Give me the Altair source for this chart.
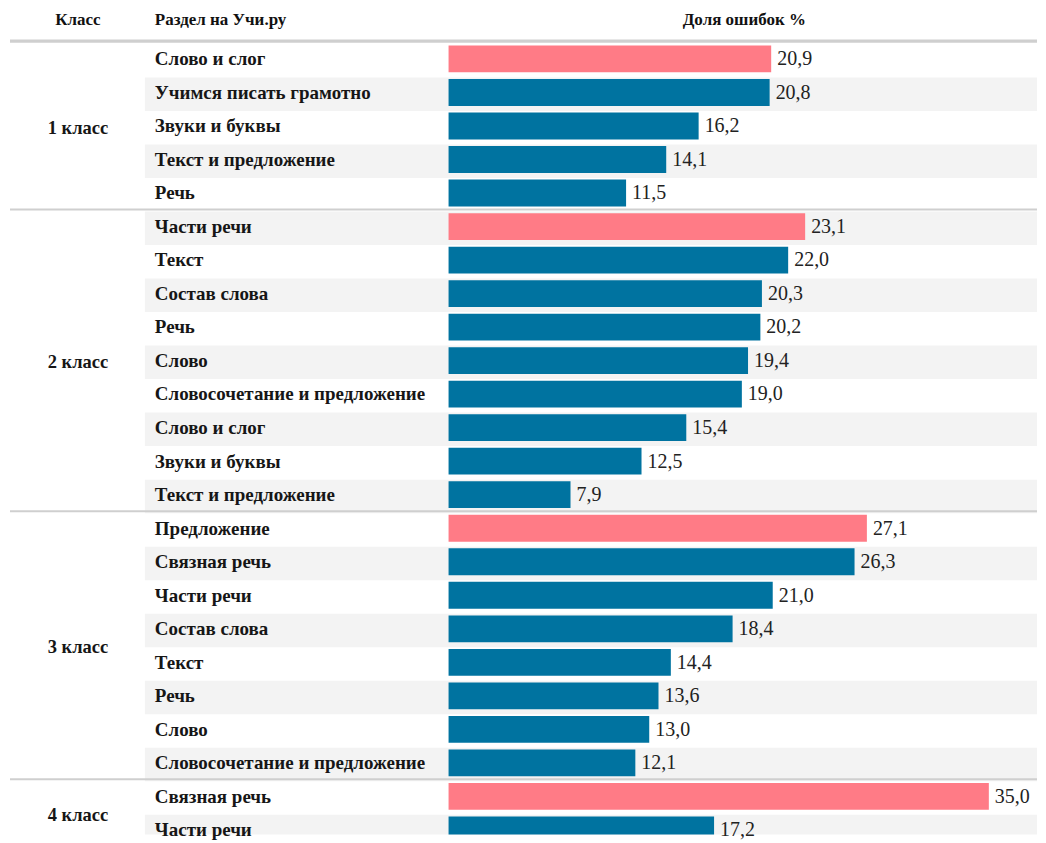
import altair as alt
import pandas as pd

classes = ["1 класс"] * 5 + ["2 класс"] * 9 + ["3 класс"] * 8 + ["4 класс"] * 2
sections = [
    "Слово и слог", "Учимся писать грамотно", "Звуки и буквы", "Текст и предложение", "Речь",
    "Части речи", "Текст", "Состав слова", "Речь", "Слово", "Словосочетание и предложение",
    "Слово и слог", "Звуки и буквы", "Текст и предложение",
    "Предложение", "Связная речь", "Части речи", "Состав слова", "Текст", "Речь", "Слово",
    "Словосочетание и предложение",
    "Связная речь", "Части речи",
]
values = [
    20.9, 20.8, 16.2, 14.1, 11.5,
    23.1, 22.0, 20.3, 20.2, 19.4, 19.0, 15.4, 12.5, 7.9,
    27.1, 26.3, 21.0, 18.4, 14.4, 13.6, 13.0, 12.1,
    35.0, 17.2,
]
header_texts = ["Класс", "Раздел на Учи.ру", "Доля ошибок %"]

PINK = "#FF7B86"
BLUE = "#0073A0"
FONT = "Liberation Serif"

df = pd.DataFrame({"cls": classes, "section": sections, "value": values})
df["row"] = range(len(df))
df["top"] = df["row"] + 0.05
df["bot"] = df["row"] + 0.85
df["mid"] = df["row"] + 0.46
df["rstart"] = df["row"].astype(float)
df["rend"] = df["row"] + 1.0
df["zero"] = 0.0
df["label"] = df["value"].map(lambda v: f"{v:.1f}".replace(".", ","))
df["best"] = df.groupby("cls")["value"].transform("max") == df["value"]
df["shade"] = df["row"] % 2 == 1

grp = df.groupby("cls", sort=False)["row"].agg(["min", "max"]).reset_index()
grp["center"] = (grp["min"] + grp["max"] + 1) / 2.0
grp["sep"] = grp["min"] - 0.06

W, H = 1030, 827
ydom = [-1.058, 23.59]
xdom = [-28.54, 38.12]

yq = lambda f: alt.Y(f, type="quantitative", scale=alt.Scale(domain=ydom, reverse=True, nice=False, zero=False), axis=None)
xq = lambda f: alt.X(f, type="quantitative", scale=alt.Scale(domain=xdom, nice=False, zero=False), axis=None)

base = alt.Chart(df)

bands = base.transform_filter("datum.shade").mark_rect(color="#F3F3F3", clip=True).encode(
    x=alt.value(137), x2=alt.value(W),
    y=yq("rstart"), y2=alt.Y2("rend"),
)

bars = base.mark_rect(clip=True).encode(
    x=xq("zero"), x2=alt.X2("value"),
    y=yq("top"), y2=alt.Y2("bot"),
    color=alt.condition("datum.best", alt.value(PINK), alt.value(BLUE)),
)

vals = base.mark_text(align="left", baseline="middle", dx=6, font=FONT, fontSize=20, color="#222").encode(
    x=xq("value"), y=yq("mid"), text="label",
)

secs = base.mark_text(align="left", baseline="middle", font=FONT, fontSize=19, fontWeight="bold", color="#161616").encode(
    x=alt.value(147), y=yq("mid"), text="section",
)

gbase = alt.Chart(grp)
clslab = gbase.mark_text(align="center", baseline="middle", font=FONT, fontSize=18.5, fontWeight="bold", color="#161616").encode(
    x=alt.value(70), y=yq("center"), text="cls",
)
seps = gbase.mark_rule(color="#CFCFCF", strokeWidth=2).encode(
    x=alt.value(2), x2=alt.value(W), y=yq("sep"),
)

hdr = pd.DataFrame({"t": header_texts, "px": [70, 147, 737], "al": ["center", "left", "center"], "y": [-0.70] * 3})
hchart = alt.Chart(hdr)
h1 = hchart.transform_filter("datum.al == 'center'").mark_text(align="center", baseline="middle", font=FONT, fontSize=17, fontWeight="bold", color="#111").encode(
    x=alt.X("px:Q", scale=None), y=yq("y"), text="t",
)
h2 = hchart.transform_filter("datum.al == 'left'").mark_text(align="left", baseline="middle", font=FONT, fontSize=17, fontWeight="bold", color="#111").encode(
    x=alt.X("px:Q", scale=None), y=yq("y"), text="t",
)
hsep = alt.Chart(pd.DataFrame({"y": [-0.1]})).mark_rule(color="#CFCFCF", strokeWidth=2).encode(
    x=alt.value(2), x2=alt.value(W), y=yq("y"),
)

chart = alt.layer(bands, hsep, seps, bars, vals, secs, clslab, h1, h2).properties(
    width=W, height=H, padding=0
).configure_view(stroke=None).resolve_scale(x="shared")

chart.save("out.html", embed_options={"renderer": "svg", "actions": False})
